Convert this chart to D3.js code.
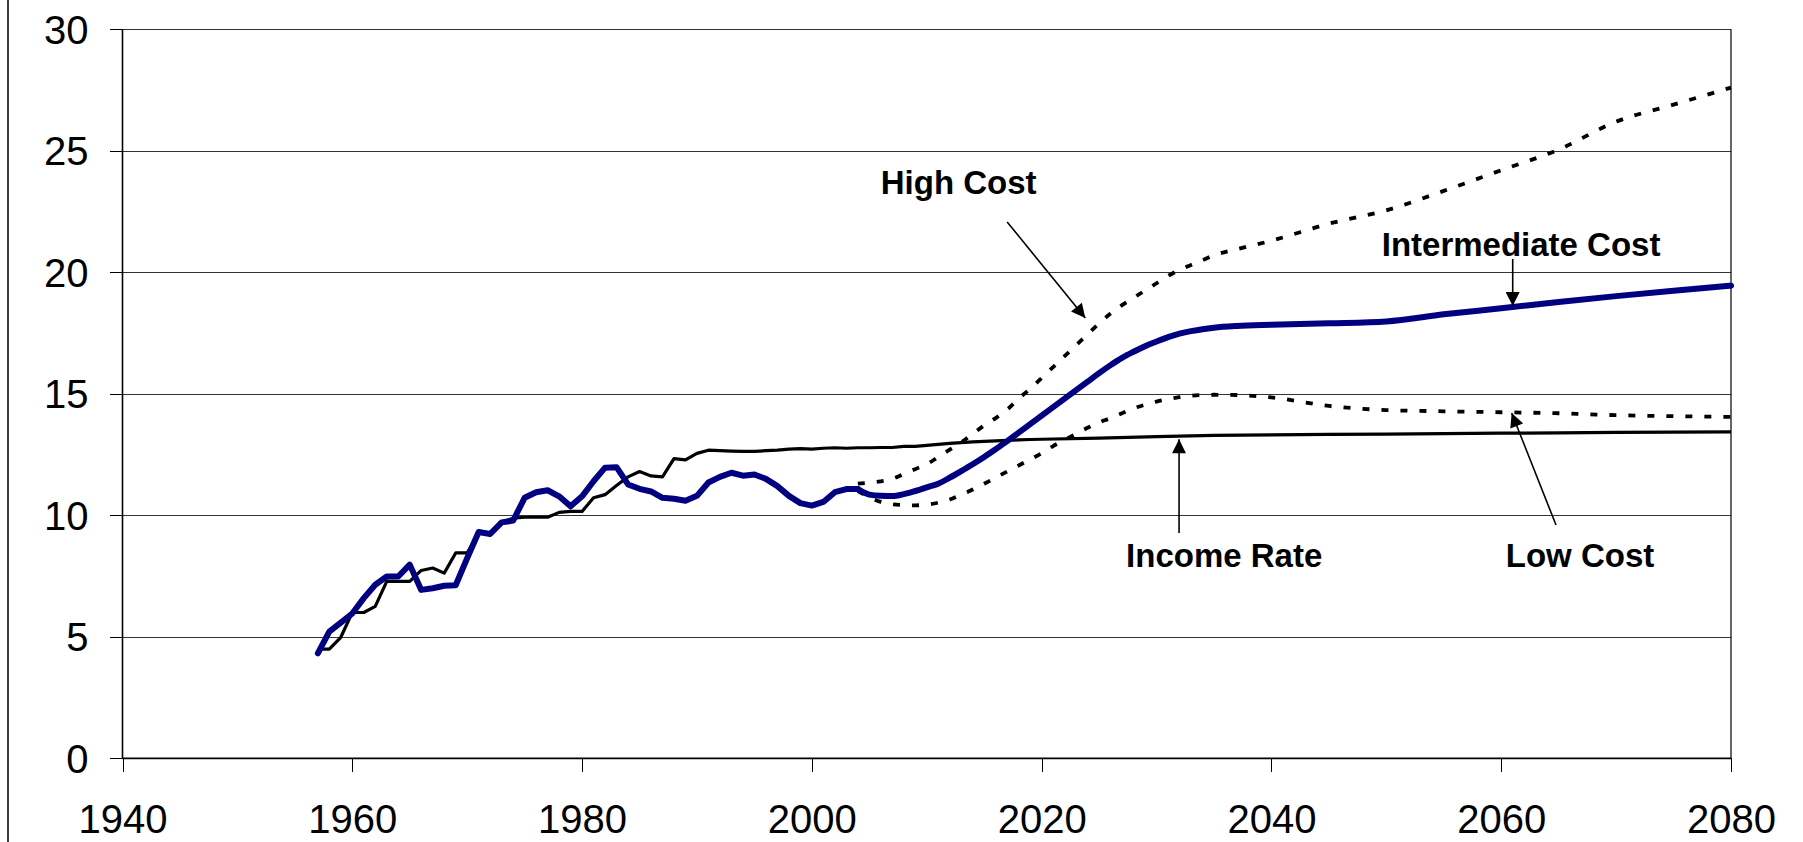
<!DOCTYPE html>
<html>
<head>
<meta charset="utf-8">
<script src="https://cdn.jsdelivr.net/npm/d3@7"></script>
<style>
  html, body { margin: 0; padding: 0; background: #fff; }
  svg { display: block; }
  text { font-family: "Liberation Sans", Arial, Helvetica, sans-serif; fill: #000; }
</style>
</head>
<body>
<svg id="chart" width="1803" height="842"></svg>
<script>
// ---------- DATA ----------
const histYears = [1957,1958,1959,1960,1961,1962,1963,1964,1965,1966,1967,1968,1969,1970,
  1971,1972,1973,1974,1975,1976,1977,1978,1979,1980,1981,1982,1983,1984,1985,1986,1987,
  1988,1989,1990,1991,1992,1993,1994,1995,1996,1997,1998,1999,2000,2001,2002,2003,2004];

const histCost = [4.32,5.21,5.58,5.96,6.59,7.14,7.48,7.48,7.97,6.93,7.0,7.1,7.12,8.24,
  9.31,9.23,9.71,9.78,10.72,10.95,11.03,10.78,10.37,10.78,11.4,11.96,11.98,11.27,11.09,10.98,10.72,
  10.68,10.6,10.8,11.35,11.58,11.75,11.63,11.68,11.5,11.2,10.8,10.5,10.4,10.55,10.95,11.08,11.08];

const incomeYears = [1957,1958,1959,1960,1961,1962,1963,1964,1965,1966,1967,1968,1969,1970,
  1971,1972,1973,1974,1975,1976,1977,1978,1979,1980,1981,1982,1983,1984,1985,1986,1987,
  1988,1989,1990,1991,1992,1993,1994,1995,1996,1997,1998,1999,2000,2001,2002,2003,2004,
  2005,2006,2007,2008,2009,2010,2011,2012,2013,2014,2015,2016,2017,2018,2019,2020,
  2025,2030,2035,2040,2045,2050,2055,2060,2065,2070,2075,2080];

const incomeRate = [4.49,4.49,4.98,6.0,6.0,6.25,7.28,7.28,7.28,7.73,7.83,7.62,8.45,8.45,
  9.27,9.2,9.71,9.88,9.92,9.92,9.92,10.12,10.16,10.16,10.72,10.85,11.23,11.58,11.8,11.62,11.58,
  12.33,12.28,12.55,12.68,12.66,12.64,12.63,12.63,12.66,12.68,12.72,12.74,12.72,12.76,12.78,12.76,12.78,
  12.78,12.79,12.79,12.84,12.84,12.88,12.92,12.96,12.99,13.02,13.04,13.06,13.08,13.1,13.12,13.13,
  13.18,13.24,13.29,13.31,13.33,13.34,13.36,13.38,13.39,13.41,13.42,13.43];

const projYears = [2004,2005,2006,2007,2008,2009,2010,2011,2012,2013,2014,2015,2016,2017,2018,2019,
  2020,2021,2022,2023,2024,2025,2026,2027,2028,2029,2030,2031,2032,2033,2034,2035,2037,2040,
  2045,2050,2055,2060,2065,2070,2075,2080];

const intermediateCost = [11.08,10.85,10.8,10.79,10.87,11.0,11.15,11.3,11.55,11.82,12.1,12.4,12.72,13.05,13.4,13.75,
  14.1,14.45,14.8,15.15,15.5,15.85,16.18,16.48,16.73,16.96,17.15,17.33,17.48,17.58,17.66,17.72,17.79,17.84,
  17.9,17.98,18.27,18.52,18.78,19.02,19.24,19.45];

const highCost = [11.3,11.34,11.4,11.5,11.7,11.9,12.1,12.4,12.7,13.0,13.35,13.7,14.0,14.35,14.8,15.2,
  15.65,16.1,16.55,17.0,17.45,17.9,18.3,18.65,18.95,19.25,19.55,19.85,20.1,20.3,20.5,20.7,20.95,21.3,
  22.0,22.55,23.35,24.2,25.05,26.2,26.9,27.6];

const lowCost = [11.0,10.75,10.55,10.45,10.42,10.41,10.44,10.52,10.65,10.85,11.06,11.3,11.55,11.8,12.05,12.3,
  12.55,12.85,13.1,13.35,13.6,13.82,14.0,14.2,14.4,14.55,14.68,14.78,14.86,14.92,14.95,14.96,14.95,14.85,
  14.5,14.33,14.28,14.24,14.2,14.12,14.08,14.05];

const xTicks = [1940,1960,1980,2000,2020,2040,2060,2080];
const yTicks = [0,5,10,15,20,25,30];

// annotation labels: text, label anchor [year, value], arrow from [year,value] to [year,value]
const annoText  = ["High Cost", "Intermediate Cost", "Income Rate", "Low Cost"];
const annoLabel = [[2006.0, 23.21], [2049.6, 20.67], [2027.35, 7.86], [2060.4, 7.88]];
const annoFrom  = [[2017.0, 22.07], [2061.0, 20.55], [2031.96, 9.27], [2064.77, 9.6]];
const annoTo    = [[2023.8, 18.12], [2061.0, 18.61], [2031.96, 13.13], [2060.91, 14.21]];

// ---------- LAYOUT ----------
const svg = d3.select("#chart");
const plotL = 122.5, plotR = 1731, plotT = 29.3, plotB = 758.3;

const x = d3.scaleLinear().domain([1940, 2080]).range([plotL, plotR]);
const y = d3.scaleLinear().domain([0, 30]).range([plotB, plotT]);

// outer frame line at far left
svg.append("line").attr("x1", 8).attr("x2", 8).attr("y1", 0).attr("y2", 842)
  .attr("stroke", "#3a3a3a").attr("stroke-width", 2);

// gridlines
const yAxis = d3.axisLeft(y).tickValues(yTicks).tickSize(-(plotR - plotL)).tickPadding(34)
  .tickFormat(d3.format("d"));
const gy = svg.append("g").attr("transform", `translate(${plotL},0)`).call(yAxis);
gy.select(".domain").remove();
gy.selectAll(".tick line").attr("stroke", "#333").attr("stroke-width", 1).attr("shape-rendering", "crispEdges");
// small outward tick segments
gy.selectAll(".tick").append("line").attr("x1", -13).attr("x2", 0)
  .attr("stroke", "#000").attr("stroke-width", 1).attr("shape-rendering", "crispEdges");
gy.selectAll(".tick text").style("font-size", "40px").attr("dy", "0.35em");

// x axis
const xAxis = d3.axisBottom(x).tickValues(xTicks).tickSize(14).tickPadding(32)
  .tickFormat(d3.format("d"));
const gx = svg.append("g").attr("transform", `translate(0,${plotB})`).call(xAxis);
gx.select(".domain").remove();
gx.selectAll(".tick line").attr("stroke", "#000").attr("stroke-width", 1).attr("shape-rendering", "crispEdges");
gx.selectAll(".tick text").style("font-size", "40px").attr("dy", "0.71em");

// plot borders: y axis, x axis, right edge
svg.append("line").attr("x1", plotL).attr("x2", plotL).attr("y1", plotT).attr("y2", plotB)
  .attr("stroke", "#000").attr("stroke-width", 1.6);
svg.append("line").attr("x1", plotL).attr("x2", plotR).attr("y1", plotB).attr("y2", plotB)
  .attr("stroke", "#000").attr("stroke-width", 1.8);
svg.append("line").attr("x1", plotR).attr("x2", plotR).attr("y1", plotT).attr("y2", plotB)
  .attr("stroke", "#000").attr("stroke-width", 1.2);

// ---------- LINES ----------
const smooth = d3.line().x(d => x(d[0])).y(d => y(d[1])).curve(d3.curveMonotoneX);
const straight = d3.line().x(d => x(d[0])).y(d => y(d[1])).curve(d3.curveLinear);
const zip = (a, b) => a.map((v, i) => [v, b[i]]);

svg.append("path").datum(zip(projYears, highCost)).attr("d", smooth)
  .attr("fill", "none").attr("stroke", "#000").attr("stroke-width", 3.8)
  .attr("stroke-dasharray", "7,12");
svg.append("path").datum(zip(projYears, lowCost)).attr("d", smooth)
  .attr("fill", "none").attr("stroke", "#000").attr("stroke-width", 3.8)
  .attr("stroke-dasharray", "7,12");
svg.append("path").datum(zip(incomeYears, incomeRate)).attr("d", straight)
  .attr("fill", "none").attr("stroke", "#000").attr("stroke-width", 3.2)
  .attr("stroke-linejoin", "round");
svg.append("path").datum(zip(histYears, histCost)).attr("d", straight)
  .attr("fill", "none").attr("stroke", "#000080").attr("stroke-width", 6)
  .attr("stroke-linejoin", "round").attr("stroke-linecap", "round");
svg.append("path").datum(zip(projYears, intermediateCost)).attr("d", smooth)
  .attr("fill", "none").attr("stroke", "#000080").attr("stroke-width", 6)
  .attr("stroke-linejoin", "round").attr("stroke-linecap", "round");

// ---------- ANNOTATIONS ----------
const defs = svg.append("defs");
defs.append("marker").attr("id", "arrow").attr("viewBox", "0 0 10 10")
  .attr("refX", 10).attr("refY", 5).attr("markerUnits", "userSpaceOnUse")
  .attr("markerWidth", 15).attr("markerHeight", 14).attr("orient", "auto")
  .append("path").attr("d", "M0,0 L10,5 L0,10 Z").attr("fill", "#000");

annoText.forEach((t, i) => {
  svg.append("line")
    .attr("x1", x(annoFrom[i][0])).attr("y1", y(annoFrom[i][1]))
    .attr("x2", x(annoTo[i][0])).attr("y2", y(annoTo[i][1]))
    .attr("stroke", "#000").attr("stroke-width", 1.6)
    .attr("marker-end", "url(#arrow)");
  svg.append("text")
    .attr("x", x(annoLabel[i][0])).attr("y", y(annoLabel[i][1]))
    .style("font-size", "33px").style("font-weight", "bold")
    .text(t);
});
</script>
</body>
</html>
